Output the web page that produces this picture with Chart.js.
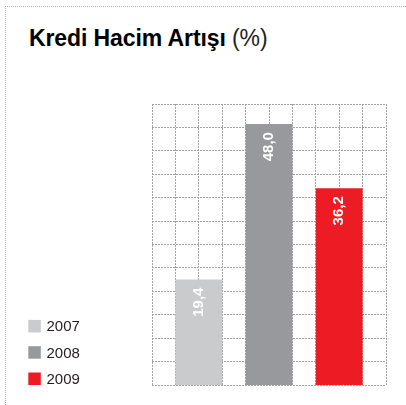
<!DOCTYPE html>
<html>
<head>
<meta charset="utf-8">
<script src="https://cdn.jsdelivr.net/npm/chart.js@4"></script>
<style>
  html, body { margin: 0; padding: 0; background: #ffffff; }
  #wrap { position: relative; width: 406px; height: 405px; overflow: hidden; }
  #frame { position: absolute; left: 5px; top: 6px; right: 0; bottom: 0;
           border-top: 1px dotted #b5b5b5; border-left: 1px dotted #b5b5b5; }
  #title { position: absolute; left: 29px; top: 27px; font-family: "Liberation Sans", Arial, sans-serif;
           font-size: 23px; line-height: 23px; color: #000; white-space: nowrap; letter-spacing: -0.1px; }
  #title b { font-weight: bold; }
  #title span { font-weight: normal; color: #222; }
  canvas { position: absolute; left: 0; top: 0; }
</style>
</head>
<body>
<div id="wrap">
  <div id="frame"></div>
  <div id="title"><b>Kredi Hacim Artışı</b> <span>(%)</span></div>
  <canvas id="c" width="406" height="405"></canvas>
</div>
<script>
// ---- data ----
const categories = ['2007', '2008', '2009'];
const values = [19.4, 48.0, 36.2];
const valueLabels = ['19,4', '48,0', '36,2'];
const barColors = ['#cacbcd', '#98999d', '#ed1c24'];
const yMax = 51.7;          // value scale top
const gridCols = 10;        // dotted grid columns
const gridRows = 12;        // dotted grid rows

const years = categories.map(Number);

const labelPlugin = {
  id: 'barLabels',
  afterDatasetsDraw(chart) {
    const ctx = chart.ctx;
    const meta = chart.getDatasetMeta(0);
    ctx.save();
    ctx.font = 'bold 15px "Liberation Sans", Arial, sans-serif';
    ctx.fillStyle = '#ffffff';
    ctx.textAlign = 'right';
    ctx.textBaseline = 'middle';
    meta.data.forEach((bar, i) => {
      ctx.save();
      ctx.translate(bar.x, bar.y + 8);
      ctx.rotate(-Math.PI / 2);
      ctx.fillText(valueLabels[i], 0, 0);
      ctx.restore();
    });
    ctx.restore();
  }
};

const legendPlugin = {
  id: 'sideLegend',
  afterDraw(chart) {
    const ctx = chart.ctx;
    const area = chart.chartArea;
    ctx.save();
    ctx.font = '15px "Liberation Sans", Arial, sans-serif';
    ctx.textAlign = 'left';
    ctx.textBaseline = 'alphabetic';
    const n = categories.length;
    categories.forEach((cat, i) => {
      const top = area.bottom - 12.5 - (n - 1 - i) * 26.3;
      ctx.fillStyle = barColors[i];
      ctx.fillRect(28.3, top, 12.5, 12.5);
      ctx.fillStyle = '#231f20';
      ctx.fillText(cat, 46.5, top + 11.5);
    });
    ctx.restore();
  }
};

const gridStyle = { color: '#a3a3a3', lineWidth: 1, drawTicks: false, offset: false };

new Chart(document.getElementById('c'), {
  type: 'bar',
  data: {
    datasets: [{
      data: years.map((y, i) => ({ x: y, y: values[i] })),
      backgroundColor: barColors,
      borderWidth: 0,
      barPercentage: 1,
      categoryPercentage: 2 / 3,
      xAxisID: 'x',
      yAxisID: 'y'
    }]
  },
  options: {
    responsive: false,
    animation: false,
    devicePixelRatio: 1,
    layout: { padding: { left: 152, top: 104, right: 20, bottom: 20 } },
    plugins: { legend: { display: false }, tooltip: { enabled: false }, title: { display: false } },
    scales: {
      x: {
        type: 'linear',
        display: false,
        offset: false,
        grid: { offset: false },
        min: years[0] - 2 / 3,
        max: years[years.length - 1] + 2 / 3,
        ticks: { stepSize: 1 }
      },
      y: { type: 'linear', display: false, min: 0, max: yMax },
      gx: {
        type: 'linear', axis: 'x', position: 'bottom', offset: false,
        min: 0, max: gridCols,
        ticks: { display: false, stepSize: 1 },
        grid: gridStyle,
        border: { display: false, dash: [2, 1] }
      },
      gy: {
        type: 'linear', axis: 'y', position: 'left', offset: false,
        min: 0, max: gridRows,
        ticks: { display: false, stepSize: 1 },
        grid: gridStyle,
        border: { display: false, dash: [2, 1] }
      }
    }
  },
  plugins: [labelPlugin, legendPlugin]
});
</script>
</body>
</html>
